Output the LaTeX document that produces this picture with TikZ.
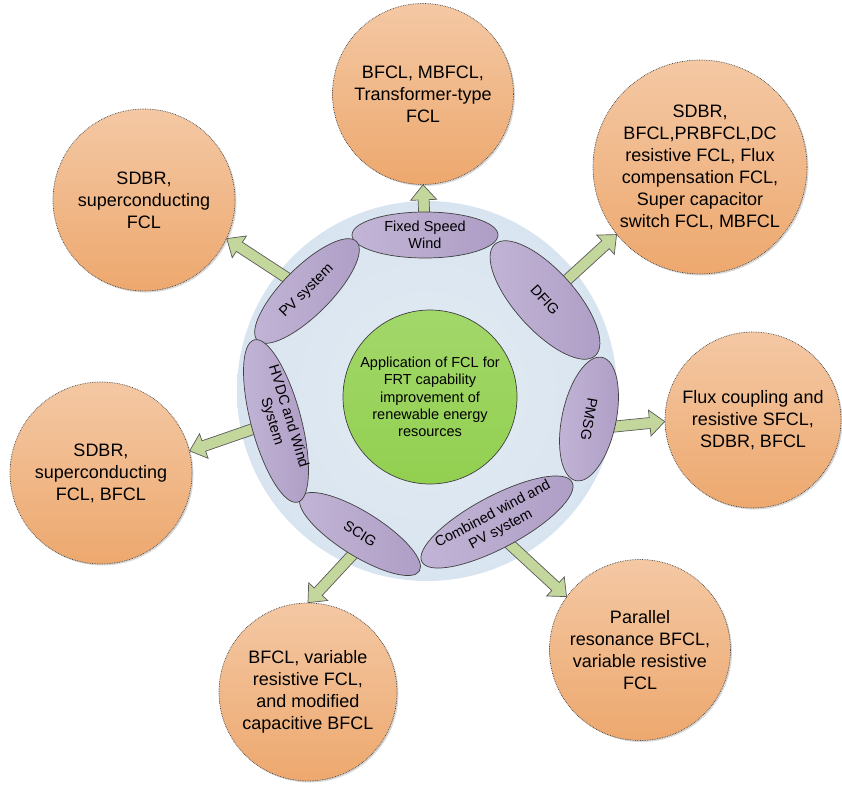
\documentclass[tikz,border=0pt]{standalone}
\usepackage{fontspec}
\setmainfont{Liberation Sans}
\usetikzlibrary{shapes.geometric,calc,shadows}

\definecolor{orangetop}{HTML}{F4C8A4}
\definecolor{orangebot}{HTML}{EDA86E}
\definecolor{purp}{HTML}{AE9DC5}
\definecolor{purplight}{HTML}{C2B5D6}
\definecolor{arrowgreen}{HTML}{C3D69B}
\definecolor{edgegray}{HTML}{404040}
\definecolor{arredge}{HTML}{5A5A5A}
\definecolor{greenc}{HTML}{92D050}
\definecolor{bluein}{HTML}{E3EBF3}
\definecolor{bluemid}{HTML}{D6E3EF}
\definecolor{blueout}{HTML}{C4D8EA}

\pgfdeclareradialshading{bgshade}{\pgfpoint{0bp}{0bp}}{color(0bp)=(bluein); color(30bp)=(bluemid); color(47bp)=(blueout); color(50bp)=(blueout!85!white); color(52bp)=(white)}

\pgfdeclarelayer{bglayer}
\pgfdeclarelayer{arrlayer}
\pgfsetlayers{bglayer,arrlayer,main}

\tikzset{
  outcircle/.style={circle, draw=edgegray, densely dotted, line width=0.7pt,
    minimum size=#1, inner sep=0pt, top color=orangetop, bottom color=orangebot,
    align=center, font=\fontsize{18}{22}\selectfont,
    drop shadow={shadow xshift=1.5pt, shadow yshift=-1.5pt, opacity=0.25, fill=black!60}},
  ellnode/.style args={#1/#2}{ellipse, draw=edgegray, line width=0.7pt,
    minimum width=#1, minimum height=#2, inner sep=0pt,
    left color=purplight, right color=purp},
  elltext/.style={align=center, font=\fontsize{14.5}{17}\selectfont, inner sep=0pt},
  blockarr/.style={fill=arrowgreen, draw=arredge, line width=0.7pt, line join=miter},
}

\newcommand{\blockarrow}[3]{%
  \coordinate (#3h) at ($(#2)!15pt!(#1)$);
  \draw[blockarr] ($(#1)!5.5pt!90:(#2)$) -- ($(#3h)!5.5pt!90:(#2)$)
    -- ($(#3h)!13pt!90:(#2)$) -- (#2) -- ($(#3h)!13pt!-90:(#2)$)
    -- ($(#3h)!5.5pt!-90:(#2)$) -- ($(#1)!5.5pt!-90:(#2)$) -- cycle;
}

\begin{document}
\begin{tikzpicture}[x=1pt,y=-1pt]
\useasboundingbox (0,0) rectangle (842,787);

% background disc
\begin{pgfonlayer}{bglayer}
\node[circle, minimum size=380pt, inner sep=0pt, shading=bgshade] (disc) at (427,391) {};
\end{pgfonlayer}

% central circle
\node[circle, draw=edgegray, line width=0.7pt, top color=greenc!85!white, bottom color=greenc,
  minimum size=174pt, inner sep=0pt, align=center, font=\fontsize{14.5}{17.3}\selectfont]
  (core) at (430,397) {Application of FCL for\\FRT capability\\improvement of\\renewable energy\\resources};

% ellipses
\node[ellnode={146pt/46pt}] (eFSW) at (425,235) {};
\node[elltext] at (eFSW.center) {Fixed Speed\\Wind};

\node[ellnode={140pt/48pt}, rotate=45] (ePV) at (307,291) {};
\node[elltext, rotate=45] at (ePV.center) {PV system};

\node[ellnode={150pt/60pt}, rotate=-48] (eDFIG) at (545,300) {};
\node[elltext, rotate=-48] at (eDFIG.center) {DFIG};

\node[ellnode={126pt/54pt}, rotate=-102] (ePMSG) at (589,419) {};
\node[elltext, rotate=-100] at (ePMSG.center) {PMSG};

\node[ellnode={170pt/52pt}, rotate=28] (eCWP) at (497,522) {};
\node[elltext, rotate=28] at (eCWP.center) {Combined wind and\\PV system};

\node[ellnode={140pt/44pt}, rotate=-32] (eSCIG) at (360,534) {};
\node[elltext, rotate=-32] at (eSCIG.center) {SCIG};

\node[ellnode={168pt/50pt}, rotate=-75] (eHVDC) at (276,421) {};
\node[elltext, rotate=-73] at ($(eHVDC.center)+(4,-2)$) {HVDC and Wind\\System};

% outer circles
\node[outcircle=181pt] (cT) at (423,94) {BFCL, MBFCL,\\Transformer-type\\FCL};
\node[outcircle=214pt] (cTR) at (700,167) {SDBR,\\BFCL,PRBFCL,DC\\resistive FCL, Flux\\compensation FCL,\\Super capacitor\\switch FCL, MBFCL};
\node[outcircle=176pt] (cR) at (753,420) {Flux coupling and\\resistive SFCL,\\SDBR, BFCL};
\node[outcircle=181pt] (cBR) at (640,650) {Parallel\\resonance BFCL,\\variable resistive\\FCL};
\node[outcircle=178pt] (cB) at (308,692) {BFCL, variable\\resistive FCL,\\and modified\\capacitive BFCL};
\node[outcircle=182pt] (cL) at (101,473) {SDBR,\\superconducting\\FCL, BFCL};
\node[outcircle=182pt] (cTL) at (144,200) {SDBR,\\superconducting\\FCL};

% arrow end points
\coordinate (sFSW) at (eFSW.center);
\coordinate (tFSW) at (cT.south);
\coordinate (sPV) at (ePV.center);
\coordinate (tPV) at (cTL.-25);
\coordinate (sDFIG) at (eDFIG.center);
\coordinate (tDFIG) at (cTR.-141);
\coordinate (sPMSG) at (600,428);
\coordinate (tPMSG) at (cR.181);
\coordinate (sCWP) at (503,538);
\coordinate (tCWP) at (cBR.144);
\coordinate (sSCIG) at (368,538);
\coordinate (tSCIG) at (cB.north);
\coordinate (sHVDC) at (eHVDC.center);
\coordinate (tHVDC) at (cL.14);

\begin{pgfonlayer}{arrlayer}
\blockarrow{sFSW}{tFSW}{aFSW}
\blockarrow{sPV}{tPV}{aPV}
\blockarrow{sDFIG}{tDFIG}{aDFIG}
\blockarrow{sPMSG}{tPMSG}{aPMSG}
\blockarrow{sCWP}{tCWP}{aCWP}
\blockarrow{sSCIG}{tSCIG}{aSCIG}
\blockarrow{sHVDC}{tHVDC}{aHVDC}
\end{pgfonlayer}
\end{tikzpicture}
\end{document}
